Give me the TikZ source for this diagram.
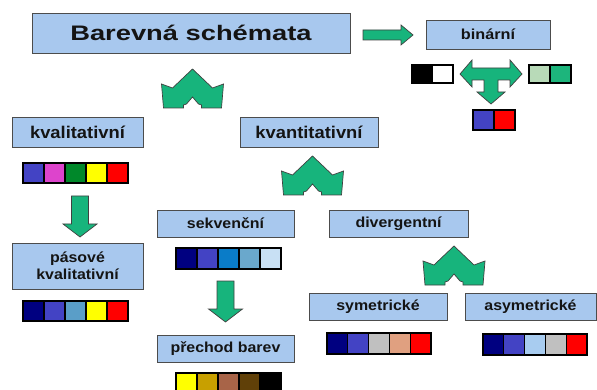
\documentclass[tikz,border=0pt]{standalone}
\usepackage{fontspec}
\setmainfont{Liberation Sans}
\usetikzlibrary{positioning}
\definecolor{boxblue}{HTML}{A8C8EE}
\definecolor{arrgreen}{HTML}{17B47C}
\definecolor{cnavy}{HTML}{000080}
\definecolor{cviolet}{HTML}{4343C4}
\definecolor{cmagenta}{HTML}{DD44CC}
\definecolor{cgreen}{HTML}{00882A}
\definecolor{cyellow}{HTML}{FFFF00}
\definecolor{cred}{HTML}{FF0000}
\definecolor{csteel}{HTML}{5A9EC8}
\definecolor{cocean}{HTML}{0A7CC8}
\definecolor{cgrayblue}{HTML}{6AA8CC}
\definecolor{cpale}{HTML}{C8E0F4}
\definecolor{cgold}{HTML}{C8A000}
\definecolor{cbrown}{HTML}{A86448}
\definecolor{cdark}{HTML}{604008}
\definecolor{csilver}{HTML}{C0C0C0}
\definecolor{cpeach}{HTML}{E0A080}
\definecolor{csky}{HTML}{A8CCF0}
\definecolor{cmint}{HTML}{B8DAB8}
\definecolor{cjade}{HTML}{1DB57C}
\newcommand\stretched[2]{\scalebox{#1}[1]{#2}}

\begin{document}
\begin{tikzpicture}[
  x=1pt, y=-1pt,
  box/.style={draw=black!70, fill=boxblue, line width=0.9pt, inner sep=0pt,
              text=black!92, align=center,
              font=\bfseries\fontsize{14.5}{17.5}\selectfont},
  head/.style={box, font=\bfseries\fontsize{17}{20}\selectfont},
  tile/.style={draw=black, line width=1.2pt},
  blockarr/.style={fill=arrgreen, draw=black!75, line width=0.7pt},
  fork/.pic={\draw[blockarr] (0,-39) -- (-20,-20) -- (-31,-24) -- (-29,0)
    -- (-9,0) -- (-9,-3) -- (-6,-4) -- (0,-11) -- (6,-4) -- (9,-3) -- (9,0)
    -- (29,0) -- (31,-24) -- (20,-20) -- cycle;},
  tee/.pic={\draw[blockarr] (-31,0) -- (-19,-14) -- (-19,-6) -- (19,-6)
    -- (19,-14) -- (31,0) -- (19,13) -- (19,6) -- (7,6) -- (7,18) -- (14,18)
    -- (0,30) -- (-14,18) -- (-7,18) -- (-7,6) -- (-19,6) -- (-19,13) -- cycle;},
  downarr/.pic={\draw[blockarr] (0,0) -- (17,-13) -- (8.5,-13) -- (8.5,-41)
    -- (-8.5,-41) -- (-8.5,-13) -- (-17,-13) -- cycle;},
  rightarr/.pic={\draw[blockarr] (0,0) -- (-12,-10) -- (-12,-5) -- (-50,-5)
    -- (-50,5) -- (-12,5) -- (-12,10) -- cycle;},
]
\useasboundingbox (0,0) rectangle (597,390);

% boxes
\node[box, minimum width=318, minimum height=40,
      font=\bfseries\fontsize{21}{24}\selectfont] (title) at (191,33)
  {\stretched{1.3}{Barevná schémata}};
\node[box, minimum width=124, minimum height=29] (bin) at (488,34.5)
  {\stretched{1.12}{binární}};
\node[head, minimum width=131, minimum height=30] (qual) at (77.5,132)
  {\stretched{1.08}{kvalitativní}};
\node[head, minimum width=138, minimum height=30] (quant) at (309,132)
  {\stretched{1.08}{kvantitativní}};
\node[box, minimum width=137, minimum height=27] (seq) at (225.5,223.5)
  {\stretched{1.1}{sekvenční}};
\node[box, minimum width=139, minimum height=27] (div) at (398.5,223.5)
  {\stretched{1.1}{divergentní}};
\node[box, minimum width=131, minimum height=46] (band) at (77.5,266)
  {\stretched{1.1}{pásové}\\\stretched{1.1}{kvalitativní}};
\node[box, minimum width=137, minimum height=27] (trans) at (225.5,348.5)
  {\stretched{1.1}{přechod barev}};
\node[box, minimum width=138, minimum height=27] (sym) at (378,306.5)
  {\stretched{1.1}{symetrické}};
\node[box, minimum width=131, minimum height=27] (asym) at (530.5,306.5)
  {\stretched{1.1}{asymetrické}};

% block arrows
\pic at (413,35) {rightarr};
\pic at (491,74) {tee};
\pic at (192.5,108) {fork};
\pic at (312.5,195) {fork};
\pic at (454,285) {fork};
\pic at (80,237) {downarr};
\pic at (225.5,322) {downarr};

% colour samples
\foreach \c [count=\i from 0] in {black,white}
  \draw[tile, fill=\c] (412+20.5*\i,65) rectangle ++(20.5,18);
\foreach \c [count=\i from 0] in {cmint,cjade}
  \draw[tile, fill=\c] (529+21*\i,65) rectangle ++(21,18);
\foreach \c [count=\i from 0] in {cviolet,cred}
  \draw[tile, fill=\c] (473+21*\i,110) rectangle ++(21,20);
\foreach \c [count=\i from 0] in {cviolet,cmagenta,cgreen,cyellow,cred}
  \draw[tile, fill=\c] (23+21*\i,163) rectangle ++(21,20);
\foreach \c [count=\i from 0] in {cnavy,cviolet,csteel,cyellow,cred}
  \draw[tile, fill=\c] (23+21*\i,301) rectangle ++(21,20);
\foreach \c [count=\i from 0] in {cnavy,cviolet,cocean,cgrayblue,cpale}
  \draw[tile, fill=\c] (176+21*\i,248) rectangle ++(21,21);
\foreach \c [count=\i from 0] in {cyellow,cgold,cbrown,cdark,black}
  \draw[tile, fill=\c] (176+21*\i,373) rectangle ++(21,20);
\foreach \c [count=\i from 0] in {cnavy,cviolet,csilver,cpeach,cred}
  \draw[tile, fill=\c] (327+20.8*\i,333) rectangle ++(20.8,21);
\foreach \c [count=\i from 0] in {cnavy,cviolet,csky,csilver,cred}
  \draw[tile, fill=\c] (483+20.8*\i,334) rectangle ++(20.8,21);
\end{tikzpicture}
\end{document}
